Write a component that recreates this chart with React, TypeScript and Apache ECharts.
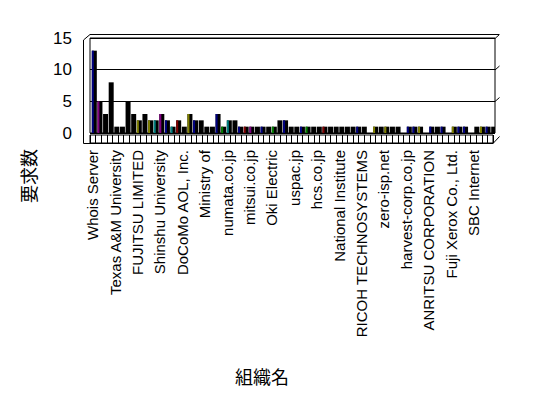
import React, { useEffect, useRef } from 'react';
import * as echarts from 'echarts';

// Organisation names (only every 4th one is printed on the axis)
const categories: string[] = [
  'Whois Server', 'org-02', 'org-03', 'org-04',
  'Texas A&M University', 'org-06', 'org-07', 'org-08',
  'FUJITSU LIMITED', 'org-10', 'org-11', 'org-12',
  'Shinshu University', 'org-14', 'org-15', 'org-16',
  'DoCoMo AOL, Inc.', 'org-18', 'org-19', 'org-20',
  'Ministry of', 'org-22', 'org-23', 'org-24',
  'numata.co.jp', 'org-26', 'org-27', 'org-28',
  'mitsui.co.jp', 'org-30', 'org-31', 'org-32',
  'Oki Electric', 'org-34', 'org-35', 'org-36',
  'uspac.jp', 'org-38', 'org-39', 'org-40',
  'hcs.co.jp', 'org-42', 'org-43', 'org-44',
  'National Institute', 'org-46', 'org-47', 'org-48',
  'RICOH TECHNOSYSTEMS', 'org-50', 'org-51', 'org-52',
  'zero-isp.net', 'org-54', 'org-55', 'org-56',
  'harvest-corp.co.jp', 'org-58', 'org-59', 'org-60',
  'ANRITSU CORPORATION', 'org-62', 'org-63', 'org-64',
  'Fuji Xerox Co., Ltd.', 'org-66', 'org-67', 'org-68',
  'SBC Internet', 'org-70', 'org-71', 'org-72',
];

// Request counts per organisation
const requestCounts: number[] = [
  13, 5, 3, 8, 1, 1, 5, 3, 2, 3, 2, 2,
  3, 2, 1, 2, 1, 3, 2, 2, 1, 1, 3, 1,
  2, 2, 1, 1, 1, 1, 1, 1, 1, 2, 2, 1,
  1, 1, 1, 1, 1, 1, 1, 1, 1, 1, 1, 1,
  1, 0, 1, 1, 1, 1, 1, 0, 1, 1, 1, 0,
  1, 1, 1, 0, 1, 1, 1, 0, 1, 1, 1, 1,
];

// Accent stripe colour per organisation ('' = none)
const accentColors: string[] = [
  '#000080', '#800080', '', '', '', '', '', '', '#808000', '', '#808000', '#008080',
  '#800080', '#000080', '#008080', '#800000', '', '#808000', '#000080', '', '', '', '#000080', '#008000',
  '#008080', '', '#000080', '#800000', '#800080', '', '#000080', '', '#008000', '', '#000080', '',
  '', '#000080', '#008000', '', '', '#800000', '', '', '', '', '', '#000080',
  '', '', '#808000', '', '#808000', '', '', '', '#000080', '#000080', '#808000', '',
  '#000080', '', '#000080', '', '#808000', '#000080', '#000080', '', '', '#808000', '#000080', '',
];

const yTicks = { min: 0, max: 15, interval: 5 };
const yTitle = '要求数';
const xTitle = '組織名';

const latin = '"Liberation Sans", Arial, sans-serif';
const cjk = '"Noto Sans CJK JP", sans-serif';

function line(x1: number, y1: number, x2: number, y2: number) {
  return {
    type: 'line',
    shape: { x1, y1, x2, y2 },
    style: { stroke: '#000', lineWidth: 1 },
    silent: true,
  };
}

export default function App() {
  const ref = useRef<HTMLDivElement>(null);

  useEffect(() => {
    document.body.style.margin = '0';
    const chart = echarts.init(ref.current!, null, { renderer: 'svg' });
    const accentData = requestCounts.map((v, i) =>
      accentColors[i] ? { value: v, itemStyle: { color: accentColors[i] } } : '-'
    );
    chart.setOption({
      animation: false,
      backgroundColor: '#ffffff',
      grid: [
        { left: 90, right: 53, top: 38, bottom: 265, show: true, borderColor: '#000', borderWidth: 1, backgroundColor: 'transparent' },
        { left: 90, right: 55, top: 135, bottom: 255, show: true, borderColor: '#000', borderWidth: 1, backgroundColor: '#fff' },
      ],
      xAxis: [
        { gridIndex: 0, type: 'category', data: categories, show: false },
        {
          gridIndex: 1,
          type: 'category',
          data: categories,
          axisLine: { show: true, lineStyle: { color: '#000', width: 1 } },
          axisTick: { show: true, inside: true, length: 8, interval: 0, lineStyle: { color: '#000' } },
          axisLabel: { interval: 3, rotate: 90, fontSize: 15, color: '#000', fontFamily: latin, margin: 7 },
          splitLine: { show: false },
        },
      ],
      yAxis: [
        {
          gridIndex: 0,
          type: 'value',
          min: yTicks.min,
          max: yTicks.max,
          interval: yTicks.interval,
          axisLine: { show: false },
          axisTick: { show: false },
          splitLine: { show: true, lineStyle: { color: '#000', width: 1 } },
          axisLabel: { fontSize: 17, color: '#000', fontFamily: latin, margin: 18 },
        },
        { gridIndex: 1, type: 'value', show: false, min: 0, max: 1, splitLine: { show: false } },
      ],
      series: [
        {
          type: 'bar',
          xAxisIndex: 0,
          yAxisIndex: 0,
          data: requestCounts,
          barWidth: 5,
          barGap: '-100%',
          itemStyle: { color: '#000' },
        },
        {
          type: 'bar',
          xAxisIndex: 0,
          yAxisIndex: 0,
          data: accentData,
          barWidth: 2,
          barGap: '-100%',
        },
      ],
      graphic: [
        line(83.5, 40, 83.5, 143.5),
        line(83.5, 143.5, 90.5, 143.5),
        line(83.5, 40, 90, 34.5),
        line(90, 34.5, 499, 34.5),
        line(495, 38.5, 499.5, 34.5),
        line(495, 70, 499.5, 66),
        line(495, 101.5, 499.5, 97.5),
        line(493, 143.5, 499.5, 136.5),
        {
          type: 'text',
          x: 28,
          y: 176,
          rotation: Math.PI / 2,
          style: { text: yTitle, fontSize: 18, fontFamily: cjk, fill: '#000', align: 'center', verticalAlign: 'middle' },
        },
        {
          type: 'text',
          x: 262,
          y: 376,
          style: { text: xTitle, fontSize: 18, fontFamily: cjk, fill: '#000', align: 'center', verticalAlign: 'middle' },
        },
      ],
    });
    return () => chart.dispose();
  }, []);

  return <div ref={ref} style={{ position: 'fixed', left: 0, top: 0, width: 548, height: 398 }} />;
}
